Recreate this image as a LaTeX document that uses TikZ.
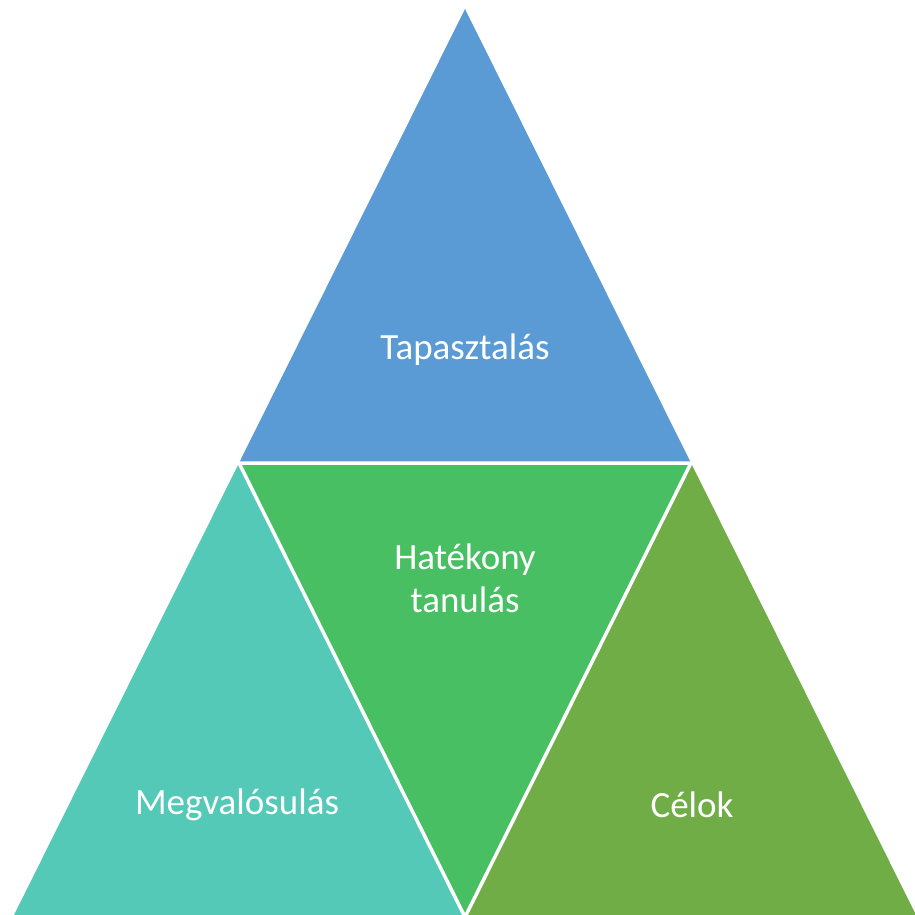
\documentclass[tikz,border=0pt]{standalone}
\usepackage{fontspec}
\setmainfont{Carlito}
\definecolor{cblue}{HTML}{5B9BD5}
\definecolor{cteal}{HTML}{54C9B7}
\definecolor{cgreen}{HTML}{48BF62}
\definecolor{colive}{HTML}{70AD47}
\tikzset{tri/.style={draw=white,line width=3.5pt,line join=miter},
 lbl/.style={text=white,font=\fontsize{37}{43}\selectfont,align=center}}
\begin{document}
\begin{tikzpicture}[x=1pt,y=-1pt]
\useasboundingbox (0,0) rectangle (915,914);
\clip (0,0) rectangle (915,914);
\coordinate (A) at (465,9);
\coordinate (ML) at (239,463);
\coordinate (MR) at (691,463);
\coordinate (BL) at (13,917);
\coordinate (BM) at (465,917);
\coordinate (BR) at (917,917);
\fill[cblue] (A) -- (ML) -- (MR) -- cycle;
\fill[cteal] (ML) -- (BL) -- (BM) -- cycle;
\fill[cgreen] (ML) -- (MR) -- (BM) -- cycle;
\fill[colive] (MR) -- (BM) -- (BR) -- cycle;
\draw[tri] (ML) -- (MR) (ML) -- (BM) -- (MR);
\node[lbl] (t1) at (465,350) {Tapasztalás};
\node[lbl] (t2) at (465,578) {Hatékony\\tanulás};
\node[lbl] (t3) at (237,805) {Megvalósulás};
\node[lbl] (t4) at (692,805) {Célok};
\end{tikzpicture}
\end{document}
